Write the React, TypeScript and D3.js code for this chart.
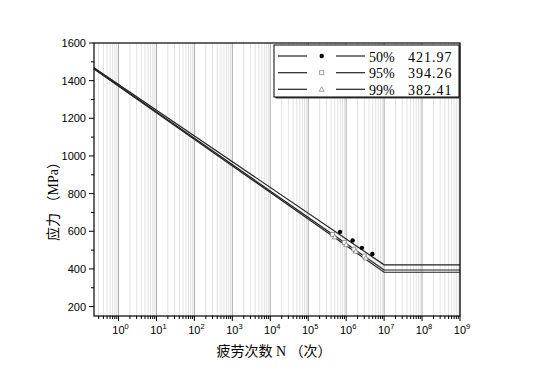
import React from "react";
import * as d3 from "d3";

const W = 536;
const H = 379;

// S-N curve definition points (N, stress in MPa)
const lineN = [0.226, 1e7, 1e9];
const s50 = [1469, 421.97, 421.97];
const s95 = [1464, 394.26, 394.26];
const s99 = [1462, 382.41, 382.41];

// test points
const circleN = [6.9e5, 1.48e6, 2.6e6, 4.9e6];
const circleS = [597, 551, 512, 479];
const squareN = [4.4e5, 8.9e5, 1.6e6, 3.0e6];
const squareS = [583, 541, 505, 468];
const triN = [5.0e5, 1.0e6, 1.8e6, 3.3e6];
const triS = [570, 530, 494, 458];

const legendPct = ["50%", "95%", "99%"];
const legendVal = ["421.97", "394.26", "382.41"];
const legendMarker = ["circle", "square", "triangle"];

const yTicks = [200, 400, 600, 800, 1000, 1200, 1400, 1600];
const yMinor = [300, 500, 700, 900, 1100, 1300, 1500];
const xExps = [0, 1, 2, 3, 4, 5, 6, 7, 8, 9];

export default function App() {
  const left = 94, right = 460, top = 43, bottom = 316;
  const x = d3.scaleLog().domain([0.226, 1e9]).range([left, right]);
  const y = d3.scaleLinear().domain([150, 1600]).range([bottom, top]);

  const minors: number[] = [];
  for (let k = -1; k <= 8; k++) {
    for (let m = 2; m <= 9; m++) {
      const v = m * Math.pow(10, k);
      if (v >= 0.226 && v <= 1e9) minors.push(v);
    }
  }

  const line = d3
    .line<[number, number]>()
    .x((d) => x(d[0]))
    .y((d) => y(d[1]));

  const series = [s50, s95, s99].map((s) =>
    lineN.map((n, i) => [n, s[i]] as [number, number])
  );

  const serif = "'Liberation Serif', 'Noto Sans CJK SC', serif";
  const cjk = "'Liberation Serif', 'Noto Sans CJK SC', sans-serif";
  const sans = "'Liberation Sans', Arial, sans-serif";

  const marker = (type: string, cx: number, cy: number, key: string) => {
    if (type === "circle")
      return <circle key={key} cx={cx} cy={cy} r={2.2} fill="#000" />;
    if (type === "square")
      return (
        <rect
          key={key}
          x={cx - 2}
          y={cy - 2}
          width={4}
          height={4}
          fill="#fff"
          stroke="#888"
          strokeWidth={0.8}
        />
      );
    return (
      <path
        key={key}
        d={`M${cx},${cy - 2.5}L${cx + 2.5},${cy + 2}L${cx - 2.5},${cy + 2}Z`}
        fill="#fff"
        stroke="#888"
        strokeWidth={0.8}
      />
    );
  };

  const lgL = 274, lgT = 45, lgR = 459, lgB = 97;
  const rowY = [56, 72.7, 89.3];

  return (
    <svg
      width={W}
      height={H}
      style={{ position: "absolute", left: 0, top: 0, display: "block" }}
    >
      <rect x={0} y={0} width={W} height={H} fill="#fff" />
      {/* minor grid */}
      {minors.map((v, i) => (
        <line
          key={"mg" + i}
          x1={x(v)}
          x2={x(v)}
          y1={top}
          y2={bottom}
          stroke="#e2e2e2"
          strokeWidth={1}
        />
      ))}
      {/* major grid */}
      {xExps.map((e) => (
        <line
          key={"Mg" + e}
          x1={x(Math.pow(10, e))}
          x2={x(Math.pow(10, e))}
          y1={top}
          y2={bottom}
          stroke="#ababab"
          strokeWidth={1}
        />
      ))}
      {/* curves */}
      {series.map((s, i) => (
        <path
          key={"l" + i}
          d={line(s) || ""}
          fill="none"
          stroke="#222"
          strokeWidth={1.2}
        />
      ))}
      {/* markers */}
      {squareN.map((n, i) => marker("square", x(n), y(squareS[i]), "sq" + i))}
      {triN.map((n, i) => marker("triangle", x(n), y(triS[i]), "tr" + i))}
      {circleN.map((n, i) => marker("circle", x(n), y(circleS[i]), "ci" + i))}

      {/* frame */}
      <rect
        x={left}
        y={top}
        width={right - left}
        height={bottom - top}
        fill="none"
        stroke="#000"
        strokeWidth={1.2}
      />
      {/* y ticks */}
      {yTicks.map((t) => (
        <g key={"yt" + t}>
          <line x1={left - 5} x2={left} y1={y(t)} y2={y(t)} stroke="#000" />
          <text
            x={86}
            y={y(t)}
            dy="0.36em"
            textAnchor="end"
            fontFamily={sans}
            fontSize={11}
            fill="#000"
          >
            {t}
          </text>
        </g>
      ))}
      {yMinor.map((t) => (
        <line
          key={"ym" + t}
          x1={left - 3}
          x2={left}
          y1={y(t)}
          y2={y(t)}
          stroke="#000"
        />
      ))}
      {/* x ticks */}
      {xExps.map((e) => (
        <g key={"xt" + e}>
          <line
            x1={x(Math.pow(10, e))}
            x2={x(Math.pow(10, e))}
            y1={bottom}
            y2={bottom + 5}
            stroke="#000"
          />
          <text
            x={x(Math.pow(10, e)) + 2}
            y={334}
            textAnchor="middle"
            fontFamily={sans}
            fontSize={11}
            fill="#000"
          >
            10
            <tspan dy={-5} fontSize={7.5}>
              {e}
            </tspan>
          </text>
        </g>
      ))}
      {minors.map((v, i) => (
        <line
          key={"xm" + i}
          x1={x(v)}
          x2={x(v)}
          y1={bottom}
          y2={bottom + 3}
          stroke="#000"
        />
      ))}
      {/* axis titles */}
      <text
        x={274}
        y={356}
        textAnchor="middle"
        fontFamily={cjk}
        fontSize={14}
        fill="#000"
      >
        疲劳次数 N （次）
      </text>
      <text
        transform={`translate(58,198) rotate(-90)`}
        textAnchor="middle"
        fontFamily={cjk}
        fontSize={14}
        fill="#000"
      >
        应力 （MPa）
      </text>

      {/* legend */}
      <rect
        x={lgL + 1.5}
        y={lgT + 1.5}
        width={lgR - lgL}
        height={lgB - lgT}
        fill="#444"
      />
      <rect
        x={lgL}
        y={lgT}
        width={lgR - lgL}
        height={lgB - lgT}
        fill="#fff"
        stroke="#000"
        strokeWidth={1}
      />
      {rowY.map((ry, i) => (
        <g key={"lg" + i}>
          <line x1={278} x2={307} y1={ry} y2={ry} stroke="#222" strokeWidth={1.2} />
          {marker(legendMarker[i], 321.7, ry, "lm" + i)}
          <line x1={336} x2={365} y1={ry} y2={ry} stroke="#222" strokeWidth={1.2} />
          <text
            x={369}
            y={ry + 5.5}
            fontFamily={serif}
            fontSize={14}
            fill="#000"
          >
            {legendPct[i]}
          </text>
          <text
            x={408}
            y={ry + 5.5}
            fontFamily={serif}
            fontSize={14}
            letterSpacing={1}
            fill="#000"
          >
            {legendVal[i]}
          </text>
        </g>
      ))}
    </svg>
  );
}
